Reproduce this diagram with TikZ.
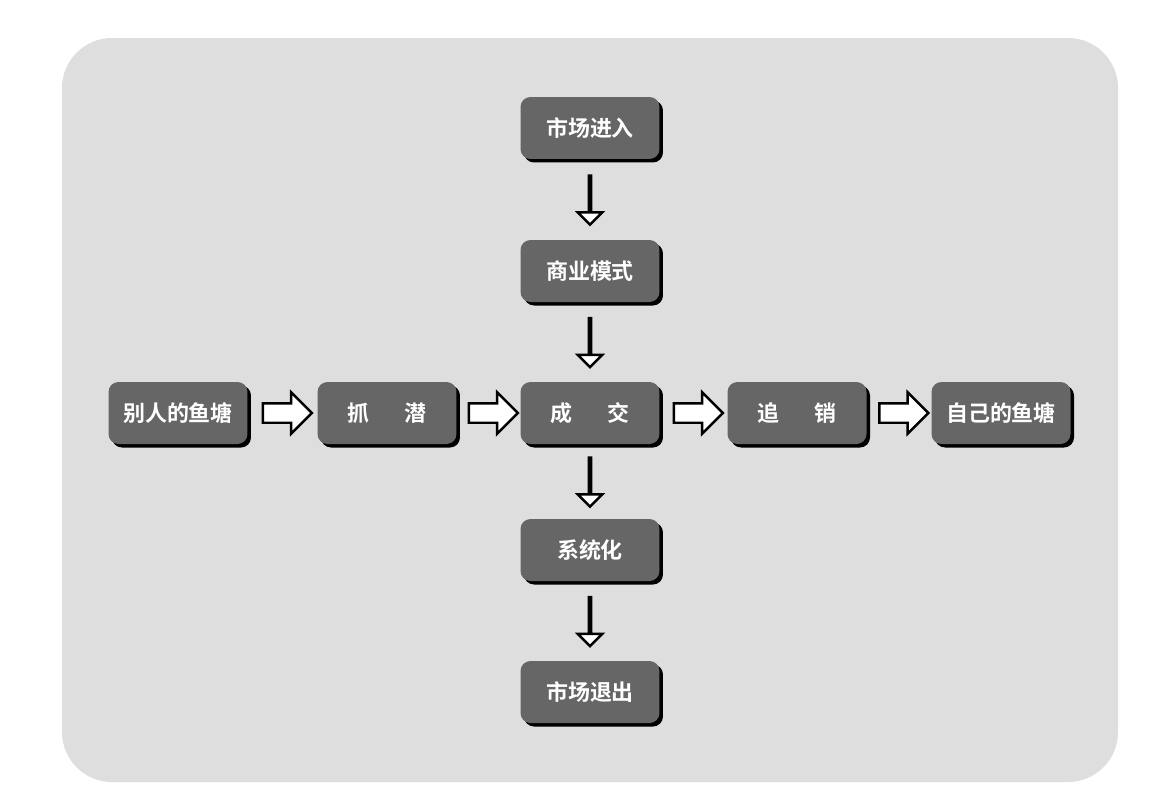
\documentclass[tikz,border=0pt]{standalone}
\usepackage{fontspec}
\newfontfamily\cjk{Noto Sans CJK SC Bold}
\usetikzlibrary{shapes.arrows,shadows,calc}
\begin{document}
\begin{tikzpicture}[x=0.02cm,y=-0.02cm,
  box/.style={fill=black!60,rounded corners=0.2cm,minimum width=2.78cm,minimum height=1.24cm,
    text=white,font=\cjk\fontsize{12.5}{14}\selectfont,inner sep=0pt,
    drop shadow={shadow xshift=0.07cm,shadow yshift=-0.07cm,fill=black,opacity=1}},
  harr/.style={single arrow,draw=black,fill=white,line width=1.4pt,inner sep=0pt,inner ysep=0.17cm,
    minimum height=0.98cm,single arrow head extend=0.22cm,single arrow tip angle=90},
  varr/.style={harr,shape border rotate=270}]
\useasboundingbox (0,0) rectangle (1158,805);
\fill[white] (0,0) rectangle (1158,805);
\fill[black!13,rounded corners=1cm] (62,38) rectangle (1118,782);
\node[box] (a) at (590,128) {市场进入};
\node[box] (b) at (590,271) {商业模式};
\node[box] (c) at (590,413) {成\hspace{1.6em}交};
\node[box] (d) at (590,550) {系统化};
\node[box] (e) at (590,692) {市场退出};
\node[box] (l2) at (178,413) {别人的鱼塘};
\node[box] (l1) at (387,413) {抓\hspace{1.6em}潜};
\node[box] (r1) at (797,413) {追\hspace{1.6em}销};
\node[box] (r2) at (1001,413) {自己的鱼塘};
\node[varr] (ab) at ($(a.south)!0.5!(b.north)+(0,0.04)$) {};
\node[varr] (bc) at ($(b.south)!0.5!(c.north)+(0,0.04)$) {};
\node[varr] (cd) at ($(c.south)!0.5!(d.north)+(0,0.04)$) {};
\node[varr] (de) at ($(d.south)!0.5!(e.north)+(0,0.04)$) {};
\node[harr] (x1) at ($(l2.east)!0.5!(l1.west)+(0.04,0)$) {};
\node[harr] (x2) at ($(l1.east)!0.5!(c.west)+(0.04,0)$) {};
\node[harr] (x3) at ($(c.east)!0.5!(r1.west)+(0.04,0)$) {};
\node[harr] (x4) at ($(r1.east)!0.5!(r2.west)+(0.04,0)$) {};
\end{tikzpicture}
\end{document}
